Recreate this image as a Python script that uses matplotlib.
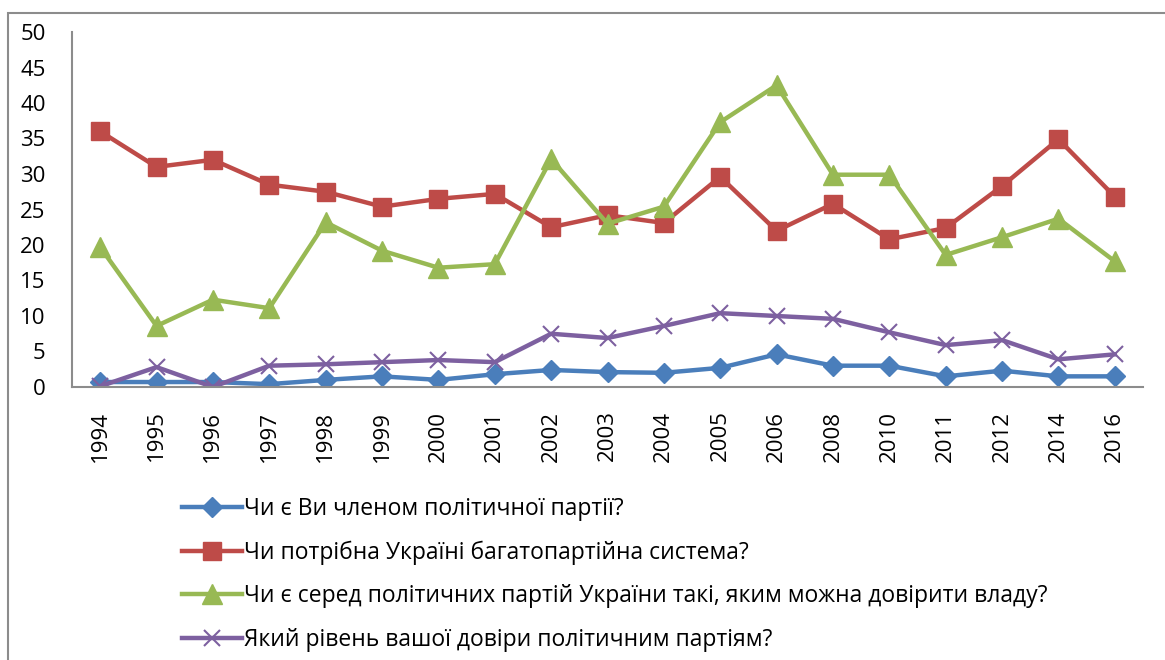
import matplotlib
matplotlib.use("Agg")
import matplotlib.pyplot as plt
from matplotlib.patches import Rectangle

years = ["1994", "1995", "1996", "1997", "1998", "1999", "2000", "2001", "2002",
         "2003", "2004", "2005", "2006", "2008", "2010", "2011", "2012", "2014", "2016"]

member = [0.7, 0.7, 0.7, 0.4, 1.0, 1.5, 1.0, 1.8, 2.4, 2.1, 2.0, 2.7, 4.6, 3.0, 3.0, 1.5, 2.3, 1.5, 1.5]
multiparty = [36.0, 31.0, 32.0, 28.5, 27.5, 25.4, 26.5, 27.2, 22.5, 24.2, 23.1, 29.6, 22.0, 25.8, 20.8, 22.4, 28.3, 34.9, 26.8]
trust_power = [19.7, 8.6, 12.3, 11.1, 23.2, 19.2, 16.8, 17.3, 32.1, 23.0, 25.4, 37.3, 42.5, 29.9, 29.9, 18.6, 21.1, 23.7, 17.7]
trust_level = [0.1, 2.8, 0.0, 3.0, 3.2, 3.5, 3.8, 3.5, 7.5, 6.9, 8.6, 10.4, 10.0, 9.6, 7.7, 5.9, 6.6, 3.9, 4.6]

labels = [
    "Чи є Ви членом політичної партії?",
    "Чи потрібна Україні багатопартійна система?",
    "Чи є серед політичних партій України такі, яким можна довірити владу?",
    "Який рівень вашої довіри політичним партіям?",
]

plt.rcParams['font.family'] = ['Open Sans', 'DejaVu Sans']

W, H = 1165, 660
fig = plt.figure(figsize=(W / 100, H / 100), dpi=100)

# outer chart border
fig.patches.append(Rectangle((8 / W, -0.1), 1.2, 1 - 13 / H + 0.1, transform=fig.transFigure,
                             fill=False, edgecolor="#8c8c8c", linewidth=1.5))

ax = fig.add_axes([72 / W, 1 - 387 / H, (1143 - 72) / W, (387 - 32) / H])

x = list(range(len(years)))
lw = 3.2
h1, = ax.plot(x, member, color="#4A7EBB", lw=lw, marker="D", markersize=10, label=labels[0])
h2, = ax.plot(x, multiparty, color="#BE4B48", lw=lw, marker="s", markersize=13, label=labels[1])
h3, = ax.plot(x, trust_power, color="#98B954", lw=lw, marker="^", markersize=15, label=labels[2])
h4, = ax.plot(x, trust_level, color="#7D60A0", lw=lw, marker="x", markersize=12, markeredgewidth=1.5, label=labels[3])

ax.set_xlim(-0.5, len(years) - 0.5)
ax.set_ylim(0, 50)
ax.set_yticks(range(0, 51, 5))
ax.set_xticks(x)
ax.set_xticklabels(years, rotation=90)
ax.tick_params(axis="both", length=0, labelsize=16, colors="black")
ax.tick_params(axis="y", pad=19)
ax.tick_params(axis="x", pad=17)

for s in ["top", "right"]:
    ax.spines[s].set_visible(False)
for s in ["left", "bottom"]:
    ax.spines[s].set_color("#8c8c8c")
    ax.spines[s].set_linewidth(1.5)

leg = fig.legend(handles=[h1, h2, h3, h4], loc="upper left",
                 bbox_to_anchor=(182 / W, 1 - 497 / H), frameon=False,
                 fontsize=16.5, handlelength=2.6, handletextpad=0.1,
                 labelspacing=0.85, borderaxespad=0, borderpad=0)

fig.savefig("out.png", dpi=100)
